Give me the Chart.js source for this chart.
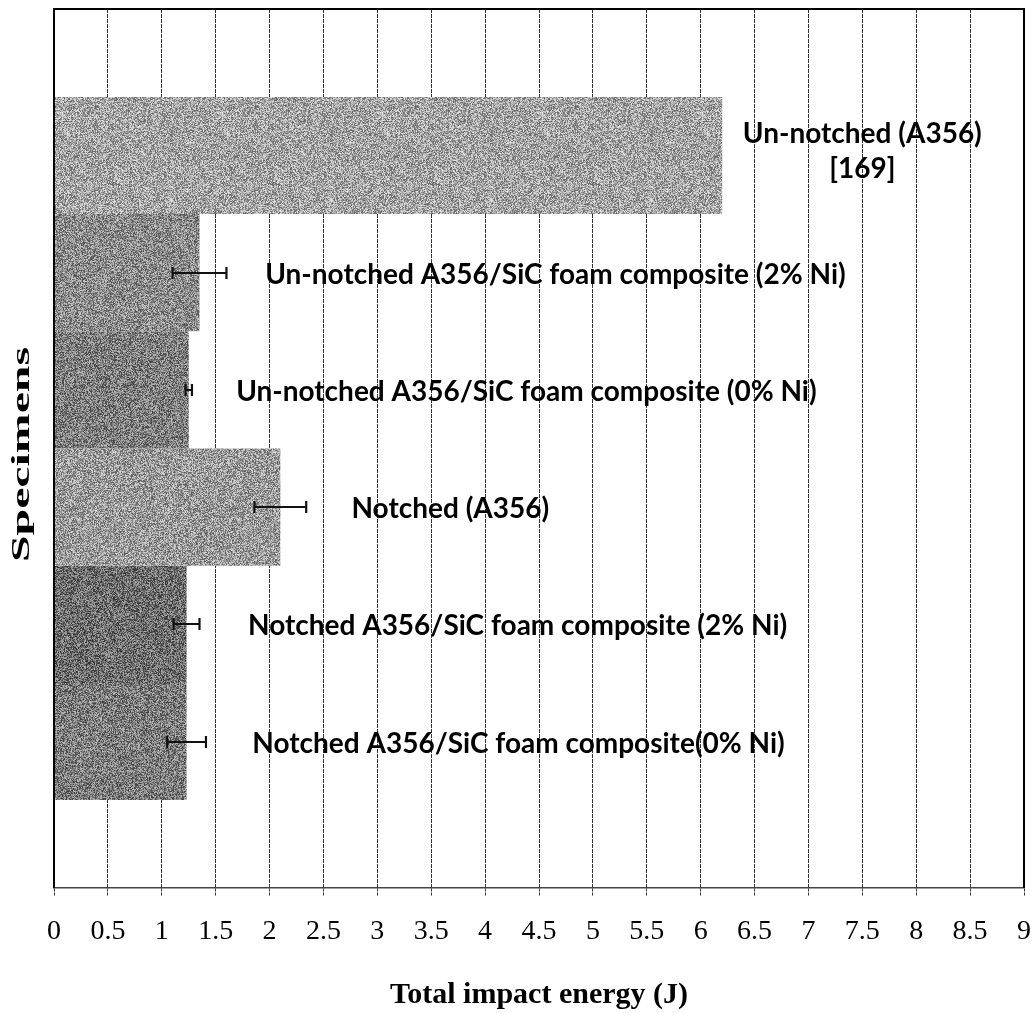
<!DOCTYPE html>
<html>
<head>
<meta charset="utf-8">
<title>Total impact energy</title>
<script src="https://cdn.jsdelivr.net/npm/chart.js@4.4.1/dist/chart.umd.min.js"></script>
<style>
  html, body { margin: 0; padding: 0; background: #fff; }
  #wrap { width: 1035px; height: 1013px; }
</style>
</head>
<body>
<div id="wrap"><canvas id="impactChart" width="1035" height="1013"></canvas></div>
<script>
// ---------------------------------------------
// DATA (specimens listed top to bottom)
// ---------------------------------------------
const specimens = [
    ["Un-notched (A356)", "[169]"],
    "Un-notched A356/SiC foam composite (2% Ni)",
    "Un-notched A356/SiC foam composite (0% Ni)",
    "Notched (A356)",
    "Notched A356/SiC foam composite (2% Ni)",
    "Notched A356/SiC foam composite(0% Ni)"
];
const energy = [6.2, 1.35, 1.25, 2.1, 1.23, 1.23];      // J
const energyErr = [0, 0.25, 0.03, 0.24, 0.12, 0.18];    // +/- J
const xTickLabels = ["0", "0.5", "1", "1.5", "2", "2.5", "3", "3.5", "4", "4.5",
                     "5", "5.5", "6", "6.5", "7", "7.5", "8", "8.5", "9"];

// ---------------------------------------------
// STYLE
// ---------------------------------------------
const barShades = [164, 140, 126, 154, 110, 124];
// label anchor on the energy axis: first one is centred, the rest start there
const labelAnchors = [7.5, 1.96, 1.69, 2.76, 1.80, 1.84];
const serif = "'Liberation Serif', 'Times New Roman', serif";
const sans = "Lato, 'Open Sans', sans-serif";

// grainy grey fill, seeded so it looks the same every time
function grainPattern(ctx, shade, seed) {
    const size = 160;
    const c = document.createElement("canvas");
    c.width = size; c.height = size;
    const g = c.getContext("2d");
    const img = g.createImageData(size, size);
    let s = seed >>> 0;
    const rnd = () => { s = (s * 1664525 + 1013904223) >>> 0; return s / 4294967296; };
    for (let i = 0; i < size * size; i++) {
        let v = shade + (rnd() - 0.5) * 130;
        v = Math.max(0, Math.min(255, v));
        img.data[i * 4] = img.data[i * 4 + 1] = img.data[i * 4 + 2] = v;
        img.data[i * 4 + 3] = 255;
    }
    g.putImageData(img, 0, 0);
    return ctx.createPattern(c, "repeat");
}

// ---------------------------------------------
// PLUGINS
// ---------------------------------------------
const errorBars = {
    id: "errorBars",
    afterDatasetsDraw(chart) {
        const { ctx } = chart;
        const xs = chart.scales.x;
        ctx.save();
        ctx.strokeStyle = "#111";
        ctx.lineWidth = 2.2;
        chart.data.datasets.forEach((ds, i) => {
            if (!ds.err) return;
            const bar = chart.getDatasetMeta(i).data[0];
            const v = ds.data[0];
            const lo = xs.getPixelForValue(v - ds.err);
            const hi = xs.getPixelForValue(v + ds.err);
            const y = Math.round(bar.y);
            ctx.beginPath();
            ctx.moveTo(lo, y); ctx.lineTo(hi, y);
            ctx.moveTo(lo, y - 6); ctx.lineTo(lo, y + 6);
            ctx.moveTo(hi, y - 6); ctx.lineTo(hi, y + 6);
            ctx.stroke();
        });
        ctx.restore();
    }
};

const barLabels = {
    id: "barLabels",
    afterDatasetsDraw(chart) {
        const { ctx } = chart;
        const xs = chart.scales.x;
        ctx.save();
        ctx.fillStyle = "#000";
        ctx.font = "bold 28px " + sans;
        ctx.textBaseline = "middle";
        chart.data.datasets.forEach((ds, i) => {
            const bar = chart.getDatasetMeta(i).data[0];
            const x = xs.getPixelForValue(labelAnchors[i]);
            if (Array.isArray(ds.label)) {
                ctx.textAlign = "center";
                ctx.fillText(ds.label[0], x, bar.y - 22);
                ctx.fillText(ds.label[1], x, bar.y + 13);
            } else {
                ctx.textAlign = "left";
                ctx.fillText(ds.label, x, bar.y + 2);
            }
        });
        ctx.restore();
    }
};

const frame = {
    id: "frame",
    afterDatasetsDraw(chart) {
        const { ctx, chartArea: a } = chart;
        ctx.save();
        ctx.strokeStyle = "#000";
        ctx.lineWidth = 2;
        ctx.beginPath();
        ctx.moveTo(a.left, a.bottom);
        ctx.lineTo(a.left, a.top);
        ctx.lineTo(a.right, a.top);
        ctx.lineTo(a.right, a.bottom);
        ctx.stroke();
        ctx.restore();
    }
};

// rotated "Specimens" axis title, drawn stretched along its length
const yTitle = {
    id: "yTitle",
    afterDraw(chart) {
        const { ctx, chartArea: a } = chart;
        const text = "Specimens";
        ctx.save();
        ctx.font = "bold 26px " + serif;
        ctx.fillStyle = "#000";
        ctx.textAlign = "center";
        ctx.textBaseline = "middle";
        const w = ctx.measureText(text).width;
        ctx.translate(22, (a.top + a.bottom) / 2 + 6);
        ctx.rotate(-Math.PI / 2);
        ctx.scale(215 / w, 1);
        ctx.fillText(text, 0, 0);
        ctx.restore();
    }
};

// ---------------------------------------------
// CHART
// ---------------------------------------------
function initChart() {
    const canvas = document.getElementById("impactChart");
    const ctx = canvas.getContext("2d");

    const datasets = specimens.map((name, i) => ({
        label: name,
        data: [energy[i]],
        err: energyErr[i],
        backgroundColor: grainPattern(ctx, barShades[i], 7919 * (i + 3)),
        borderWidth: 0,
        categoryPercentage: 0.8,
        barPercentage: 1
    }));

    new Chart(ctx, {
        type: "bar",
        data: { labels: [""], datasets },
        options: {
            indexAxis: "y",
            responsive: false,
            animation: false,
            layout: { padding: { top: 9, right: 11, left: 0, bottom: 0 } },
            plugins: {
                legend: { display: false },
                tooltip: { enabled: false }
            },
            scales: {
                x: {
                    type: "linear",
                    min: 0,
                    max: 9,
                    ticks: {
                        stepSize: 0.5,
                        color: "#000",
                        padding: 19,
                        maxRotation: 0,
                        autoSkip: false,
                        font: { family: serif, size: 28 },
                        callback: (v) => xTickLabels[Math.round(v * 2)]
                    },
                    grid: {
                        color: "#333",
                        lineWidth: 1,
                        tickLength: 8,
                        tickColor: "#333",
                        tickBorderDash: [3, 1]
                    },
                    border: { display: true, color: "#444", width: 1.5, dash: [4, 1] },
                    title: {
                        display: true,
                        text: "Total impact energy (J)",
                        color: "#000",
                        font: { family: serif, size: 30, weight: "bold" },
                        padding: { top: 0, bottom: 0 }
                    },
                    afterFit(scale) {
                        scale.height = 125;
                        scale.paddingLeft = 0;
                        scale.paddingRight = 0;
                    }
                },
                y: {
                    grid: { display: false },
                    ticks: { display: false },
                    border: { display: false },
                    afterFit(scale) { scale.width = 54; }
                }
            }
        },
        plugins: [errorBars, barLabels, frame, yTitle]
    });
}

document.addEventListener("DOMContentLoaded", initChart);
</script>
</body>
</html>
